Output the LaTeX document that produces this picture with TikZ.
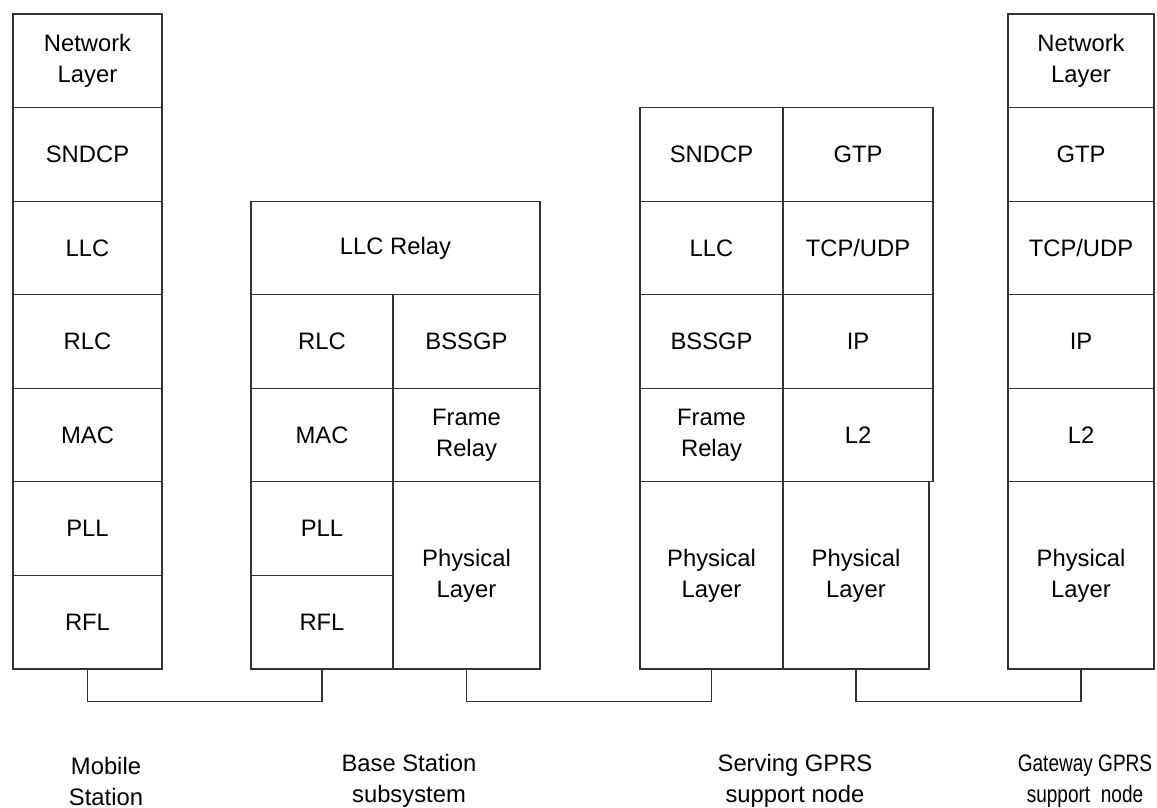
\documentclass[tikz,border=0pt]{standalone}
\usepackage{fontspec}
\setmainfont{Liberation Sans}
\newcommand{\rowh}{46.79pt}
\newcommand{\physh}{93.57pt}
\tikzset{
  layer/.style={draw=black!80,line width=0.6pt,align=center,inner sep=0pt,minimum height=\rowh},
  link/.style={draw=black!80,line width=0.6pt},
  station/.style={align=center,inner sep=0pt}
}

\begin{document}
\begin{tikzpicture}[x=0.5pt,y=-0.5pt,font=\fontsize{11.9}{15.5}\selectfont]
  \useasboundingbox (0,0) rectangle (1157,808);
  % mobile station
  \foreach \lbl [count=\i] in {{Network\\Layer},SNDCP,LLC,RLC,MAC,PLL,RFL}
    \node[layer,minimum width=74.5pt] (ms-\i) at (87.5,{14+(\i-0.5)*93.57}) {\lbl};
  % base station subsystem
  \node[layer,minimum width=144.5pt] (bss-llc) at (395.5,247.9) {LLC Relay};
  \foreach \lbl/\nm [count=\i from 4] in {RLC/rlc,MAC/mac,PLL/pll,RFL/rfl}
    \node[layer,minimum width=71pt] (bss-\nm) at (322,{14+(\i-0.5)*93.57}) {\lbl};
  \node[layer,minimum width=73.5pt] (bss-bssgp) at (466.5,341.5) {BSSGP};
  \node[layer,minimum width=73.5pt] (bss-fr) at (466.5,435.1) {Frame\\Relay};
  \node[layer,minimum width=73.5pt,minimum height=\physh] (bss-phy) at (466.5,575.4) {Physical\\Layer};
  % serving GPRS support node
  \foreach \lbl [count=\i from 2] in {SNDCP,LLC,BSSGP,{Frame\\Relay}}
    \node[layer,minimum width=71.5pt] (sgsn-l\i) at (711.5,{14+(\i-0.5)*93.57}) {\lbl};
  \foreach \lbl [count=\i from 2] in {GTP,TCP/UDP,IP,L2}
    \node[layer,minimum width=75pt] (sgsn-r\i) at (858,{14+(\i-0.5)*93.57}) {\lbl};
  \node[layer,minimum width=71.5pt,minimum height=\physh] (sgsn-phy1) at (711.5,575.4) {Physical\\Layer};
  \node[layer,minimum width=73pt,minimum height=\physh] (sgsn-phy2) at (856,575.4) {Physical\\Layer};
  % gateway GPRS support node
  \foreach \lbl [count=\i] in {{Network\\Layer},GTP,TCP/UDP,IP,L2}
    \node[layer,minimum width=73pt] (ggsn-\i) at (1081,{14+(\i-0.5)*93.57}) {\lbl};
  \node[layer,minimum width=73pt,minimum height=\physh] (ggsn-phy) at (1081,575.4) {Physical\\Layer};
  % links
  \draw[link] (ms-7.south) -- ++(0,32) -| (bss-rfl.south);
  \draw[link] (bss-phy.south) -- ++(0,32) -| (sgsn-phy1.south);
  \draw[link] (sgsn-phy2.south) -- ++(0,32) -| (ggsn-phy.south);
  % captions
  \node[station] (ms-lbl) at (106,781) {Mobile\\Station};
  \node[station] (bss-lbl) at (409,781) {Base Station\\subsystem};
  \node[station] (sgsn-lbl) at (795,781) {Serving GPRS\\support node};
  \node[station,xscale=0.8,transform shape] (ggsn-lbl) at (1085,781) {Gateway GPRS\\support\ \ node};
\end{tikzpicture}
\end{document}
